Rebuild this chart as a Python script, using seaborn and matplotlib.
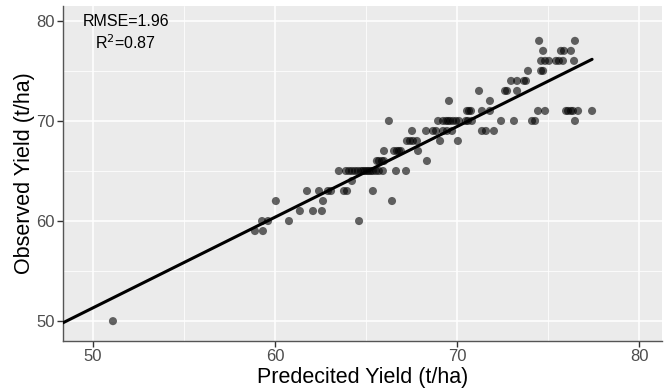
import numpy as np
import pandas as pd
import matplotlib
matplotlib.use("Agg")
import matplotlib.pyplot as plt
import seaborn as sns

# predicted / observed yield (t/ha)
y50_x = [51.1]
y59_x = [58.90, 59.34]
y60_x = [59.29, 59.62, 60.77, 64.62]
y61_x = [61.37, 62.09, 62.58]
y62_x = [60.05, 62.64, 66.43]
y63_x = [61.76, 62.42, 62.91, 63.08, 63.79, 63.96, 65.38]
y64_x = [64.23]
y65_x = [63.51, 63.90, 64.07, 64.23, 64.40, 64.56, 64.73, 64.84, 64.95, 65.06,
         65.16, 65.27, 65.38, 65.55, 65.71, 65.93, 66.65, 67.20]
y66_x = [65.60, 65.71, 65.88, 65.99, 68.35]
y67_x = [65.99, 66.54, 66.70, 66.81, 66.92, 67.86]
y68_x = [67.25, 67.42, 67.58, 67.80, 69.07, 70.05]
y69_x = [67.53, 68.30, 68.68, 68.85, 69.23, 69.45, 69.73, 71.37, 71.59, 72.03]
y70_x = [66.26, 68.96, 69.23, 69.40, 69.51, 69.62, 69.78, 69.95, 70.11, 70.49,
         70.60, 70.82, 72.42, 73.13, 74.12, 74.29, 76.48]
y71_x = [70.55, 70.66, 70.77, 71.37, 71.81, 74.45, 74.84, 75.99, 76.10, 76.26,
         76.37, 76.65, 77.42]
y72_x = [69.56, 71.81]
y73_x = [71.21, 72.64, 72.75, 73.30]
y74_x = [72.97, 73.30, 73.68, 73.79]
y75_x = [73.90, 74.62, 74.73]
y76_x = [74.62, 74.84, 75.05, 75.44, 75.60, 75.82, 76.43]
y77_x = [74.73, 75.71, 75.88, 76.26]
y78_x = [74.51, 76.48]

rows = {50: y50_x, 59: y59_x, 60: y60_x, 61: y61_x, 62: y62_x, 63: y63_x,
        64: y64_x, 65: y65_x, 66: y66_x, 67: y67_x, 68: y68_x, 69: y69_x,
        70: y70_x, 71: y71_x, 72: y72_x, 73: y73_x, 74: y74_x, 75: y75_x,
        76: y76_x, 77: y77_x, 78: y78_x}

df = pd.DataFrame([(x, obs) for obs, xs in rows.items() for x in xs],
                  columns=["predicted", "observed"])

rmse_txt = "RMSE=1.96"
r2_txt = "R$^2$=0.87"

sns.set_theme(style="darkgrid")
plt.rcParams['font.family'] = ['Liberation Sans', 'DejaVu Sans']

fig = plt.figure(figsize=(6.69, 3.89), dpi=100)
ax = fig.add_axes([0.094, 0.123, 0.8955, 0.862])
ax.set_facecolor("#EBEBEB")

xlim = (48.35, 81.26)
ylim = (48.0, 81.5)

sns.scatterplot(data=df, x="predicted", y="observed", ax=ax, color="black",
                alpha=0.6, s=34, edgecolor="none", zorder=3)

# linear fit, drawn from the left edge to the largest prediction
slope, intercept = np.polyfit(df["predicted"], df["observed"], 1)
xl = np.array([xlim[0], df["predicted"].max()])
ax.plot(xl, intercept + slope * xl, color="black", lw=2.2, zorder=4)

ax.set_xlim(*xlim)
ax.set_ylim(*ylim)
ax.set_xticks([50, 60, 70, 80])
ax.set_yticks([50, 60, 70, 80])
ax.set_xticks([55, 65, 75], minor=True)
ax.set_yticks([55, 65, 75], minor=True)
ax.grid(which="major", color="white", lw=1.1)
ax.grid(which="minor", color="white", lw=0.55)
ax.set_axisbelow(True)

for side in ["top", "right"]:
    ax.spines[side].set_visible(False)
for side in ["left", "bottom"]:
    ax.spines[side].set_visible(True)
    ax.spines[side].set_color("#555555")
    ax.spines[side].set_linewidth(1.0)

ax.tick_params(which="major", length=4, width=1, color="#333333",
               labelsize=12, labelcolor="#4D4D4D", pad=2,
               bottom=True, left=True)
ax.tick_params(which="minor", length=0)

ax.set_xlabel("Predecited Yield (t/ha)", fontsize=15.5, color="black", labelpad=2)
ax.set_ylabel("Observed Yield (t/ha)", fontsize=15.5, color="black", labelpad=1)

ax.text(51.81, 79.9, rmse_txt, ha="center", va="center", fontsize=11.5, color="black")
ax.text(51.81, 77.8, r2_txt, ha="center", va="center", fontsize=11.5, color="black")

fig.savefig("out.png", dpi=100)
